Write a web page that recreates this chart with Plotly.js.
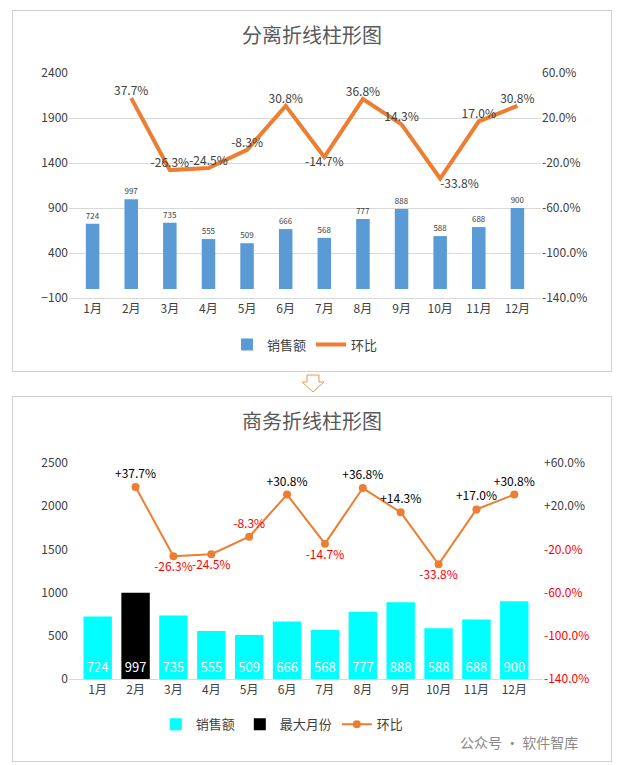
<!DOCTYPE html>
<html><head><meta charset="utf-8">
<script src="https://cdn.plot.ly/plotly-3.0.1.min.js"></script>
<style>
body{margin:0;background:#fff;font-family:"Noto Sans CJK SC",sans-serif;}
.box{position:absolute;left:12px;width:598px;border:1px solid #d0d0d0;}
#c1{top:10px;height:360px;}
#c2{top:396px;height:364px;}
#arrow{position:absolute;left:300px;top:374px;}
#wm{position:absolute;left:460px;top:732px;font-size:14px;color:#888;}
</style></head><body>
<div id="c1" class="box"></div>
<svg id="arrow" width="26" height="20"><path d="M7 1 H19 V8 H24 L13 18 L2 8 H7 Z" fill="#fff" stroke="#e89a50" stroke-width="1"/></svg>
<div id="c2" class="box"></div>
<div id="wm">公众号 · 软件智库</div>
<script>
const months = ["1月","2月","3月","4月","5月","6月","7月","8月","9月","10月","11月","12月"];
const sales = [724,997,735,555,509,666,568,777,888,588,688,900];
const ratio = [null,0.377,-0.263,-0.245,-0.083,0.308,-0.147,0.368,0.143,-0.338,0.170,0.308];

const font = {family:"Noto Sans CJK SC, sans-serif", size:12, color:"#404040"};
const pctVals = [-1.4,-1.0,-0.6,-0.2,0.2,0.6];
const fmt = v => (v*100).toFixed(1) + "%";

// top chart
const pos1 = ratio.map((r,i)=> i===6 ? "bottom center" : (i===9 ? "bottom right" : "top center"));
Plotly.newPlot("c1", [
  {type:"bar", name:"销售额", x:months, y:sales, marker:{color:"#5B9BD5"}, width:0.35,
   text:sales.map(String), textposition:"outside", cliponaxis:false, textfont:{size:12,color:"#404040"}},
  {type:"scatter", mode:"lines+text", name:"环比", x:months, y:ratio, yaxis:"y2",
   line:{color:"#ED7D31", width:4}, text:ratio.map(r=>r===null?"":fmt(r)),
   textposition:pos1, textfont:{size:12,color:"#404040"}, cliponaxis:false, connectgaps:false}
], {
  width:598, height:360, margin:{l:56,r:70,t:62,b:68},
  paper_bgcolor:"#fff", plot_bgcolor:"#fff", font:font,
  title:{text:"分离折线柱形图", font:{size:20,color:"#595959"}, x:0.5, y:0.95},
  xaxis:{showline:true, linecolor:"#d9d9d9", ticks:""},
  yaxis:{range:[-100,2400], tickvals:[-100,400,900,1400,1900,2400], gridcolor:"#d9d9d9", zeroline:false},
  yaxis2:{overlaying:"y", side:"right", range:[-1.4,0.6], tickvals:pctVals, ticktext:pctVals.map(fmt), showgrid:false, zeroline:false},
  legend:{orientation:"h", x:0.5, xanchor:"center", y:-0.14, font:{size:13}},
  showlegend:true
}, {displayModeBar:false});

// bottom chart
const maxV = Math.max(...sales);
const normalSales = sales.map(v=> v===maxV ? null : v);
const maxSales = sales.map(v=> v===maxV ? v : null);
const pos2 = ratio.map(r=> r!==null && r<-0.1 ? "bottom center" : "top center");
const txt2 = ratio.map(r=> r===null ? "" : (r>0 ? "+" : "") + fmt(r));
const col2 = ratio.map(r=> r!==null && r<0 ? "#FF0000" : "#000000");
Plotly.newPlot("c2", [
  {type:"bar", name:"销售额", x:months, y:normalSales, marker:{color:"#00FFFF"}, width:0.75,
   text:normalSales.map(v=>v===null?"":String(v)), textposition:"inside", insidetextanchor:"start",
   textfont:{size:13,color:"#ffffff"}},
  {type:"bar", name:"最大月份", x:months, y:maxSales, marker:{color:"#000000"}, width:0.75,
   text:maxSales.map(v=>v===null?"":String(v)), textposition:"inside", insidetextanchor:"start",
   textfont:{size:13,color:"#ffffff"}},
  {type:"scatter", mode:"lines+markers+text", name:"环比", x:months, y:ratio, yaxis:"y2",
   line:{color:"#ED7D31", width:2}, marker:{color:"#ED7D31", size:8},
   text:txt2, textposition:pos2, textfont:{size:12,color:col2}, cliponaxis:false}
], {
  width:598, height:364, margin:{l:56,r:68,t:66,b:82},
  paper_bgcolor:"#fff", plot_bgcolor:"#fff", font:font, barmode:"overlay",
  title:{text:"商务折线柱形图", font:{size:20,color:"#595959"}, x:0.5, y:0.95},
  xaxis:{showline:true, linecolor:"#d9d9d9", ticks:""},
  yaxis:{range:[0,2500], dtick:500, showgrid:false, zeroline:false},
  yaxis2:{overlaying:"y", side:"right", range:[-1.4,0.6], tickvals:pctVals,
    ticktext:pctVals.map(v=> v<0 ? "<span style='color:#FF0000'>"+fmt(v)+"</span>" : "+"+fmt(v)),
    showgrid:false, zeroline:false},
  legend:{orientation:"h", x:0.45, xanchor:"center", y:-0.14, font:{size:13}},
  showlegend:true
}, {displayModeBar:false});
</script>
</body></html>
